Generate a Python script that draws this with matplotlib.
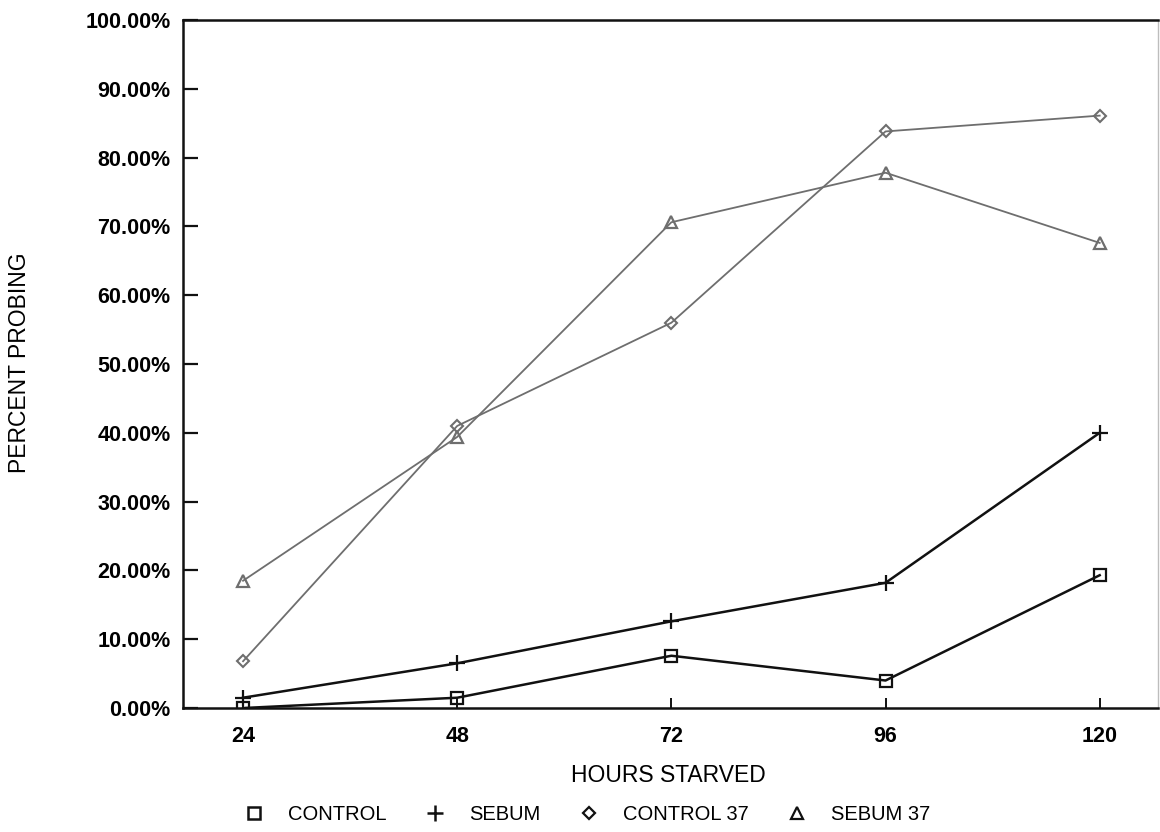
import matplotlib

matplotlib.use("Agg")
import matplotlib.pyplot as plt
from matplotlib.lines import Line2D
from matplotlib.ticker import FuncFormatter

plt.rcParams["font.family"] = ["Liberation Sans", "DejaVu Sans"]

# Data
hours = [24, 48, 72, 96, 120]
control = [0.0, 1.5, 7.6, 4.0, 19.3]
sebum = [1.5, 6.5, 12.6, 18.2, 40.0]
control_37 = [6.8, 41.0, 56.0, 83.8, 86.1]
sebum_37 = [18.5, 39.4, 70.6, 77.8, 67.6]

series_names = ["CONTROL", "SEBUM", "CONTROL 37", "SEBUM 37"]
y_ticks = [0, 10, 20, 30, 40, 50, 60, 70, 80, 90, 100]

BLACK = "#111111"
GREY = "#6e6e6e"

fig = plt.figure(figsize=(11.6, 8.32), dpi=100)
ax = fig.add_axes([0.158, 0.149, 0.840, 0.827])

ax.plot(hours, control, color=BLACK, lw=1.8, marker="s", ms=8,
        mfc="none", mec=BLACK, mew=1.6)
ax.plot(hours, sebum, color=BLACK, lw=1.8, marker="+", ms=12, mew=1.6)
ax.plot(hours, control_37, color=GREY, lw=1.3, marker="D", ms=6.5,
        mfc="none", mec=GREY, mew=1.5)
ax.plot(hours, sebum_37, color=GREY, lw=1.3, marker="^", ms=8.5,
        mfc="none", mec=GREY, mew=1.6)

ax.set_xlim(17.3, 126.5)
ax.set_ylim(0, 100)
ax.set_xticks(hours)
ax.set_yticks(y_ticks)
ax.yaxis.set_major_formatter(FuncFormatter(lambda v, p: f"{v:.2f}%"))

ax.tick_params(axis="y", direction="in", length=11, width=1.6, pad=9,
               labelsize=15.5, color=BLACK)
ax.tick_params(axis="x", direction="in", length=7, width=1.4, pad=13,
               labelsize=15.5, color=BLACK)
for lab in ax.get_xticklabels() + ax.get_yticklabels():
    lab.set_fontweight("bold")

for side in ["left", "bottom", "top"]:
    ax.spines[side].set_linewidth(1.8)
    ax.spines[side].set_color(BLACK)
ax.spines["right"].set_linewidth(1.0)
ax.spines["right"].set_color("#bdbdbd")

fig.text(668 / 1160, 1 - 776 / 832, "HOURS STARVED", ha="center", va="center",
         fontsize=16.5)
fig.text(20 / 1160, 1 - 363 / 832, "PERCENT PROBING", ha="center", va="center",
         rotation=90, fontsize=16.5)

handles = [
    Line2D([], [], ls="none", marker="s", ms=8, mfc="none", mec=BLACK, mew=1.8),
    Line2D([], [], ls="none", marker="+", ms=11, color=BLACK, mew=1.8),
    Line2D([], [], ls="none", marker="D", ms=6.5, mfc="none", mec=BLACK, mew=1.6),
    Line2D([], [], ls="none", marker="^", ms=8, mfc="none", mec=BLACK, mew=1.6),
]
fig.legend(handles, series_names, loc="center",
           bbox_to_anchor=(587 / 1160, 1 - 815 / 832), ncol=4, frameon=False,
           fontsize=14.5, handlelength=1.0, handletextpad=1.2, columnspacing=1.9)

fig.savefig("out.png", dpi=100, facecolor="white")
